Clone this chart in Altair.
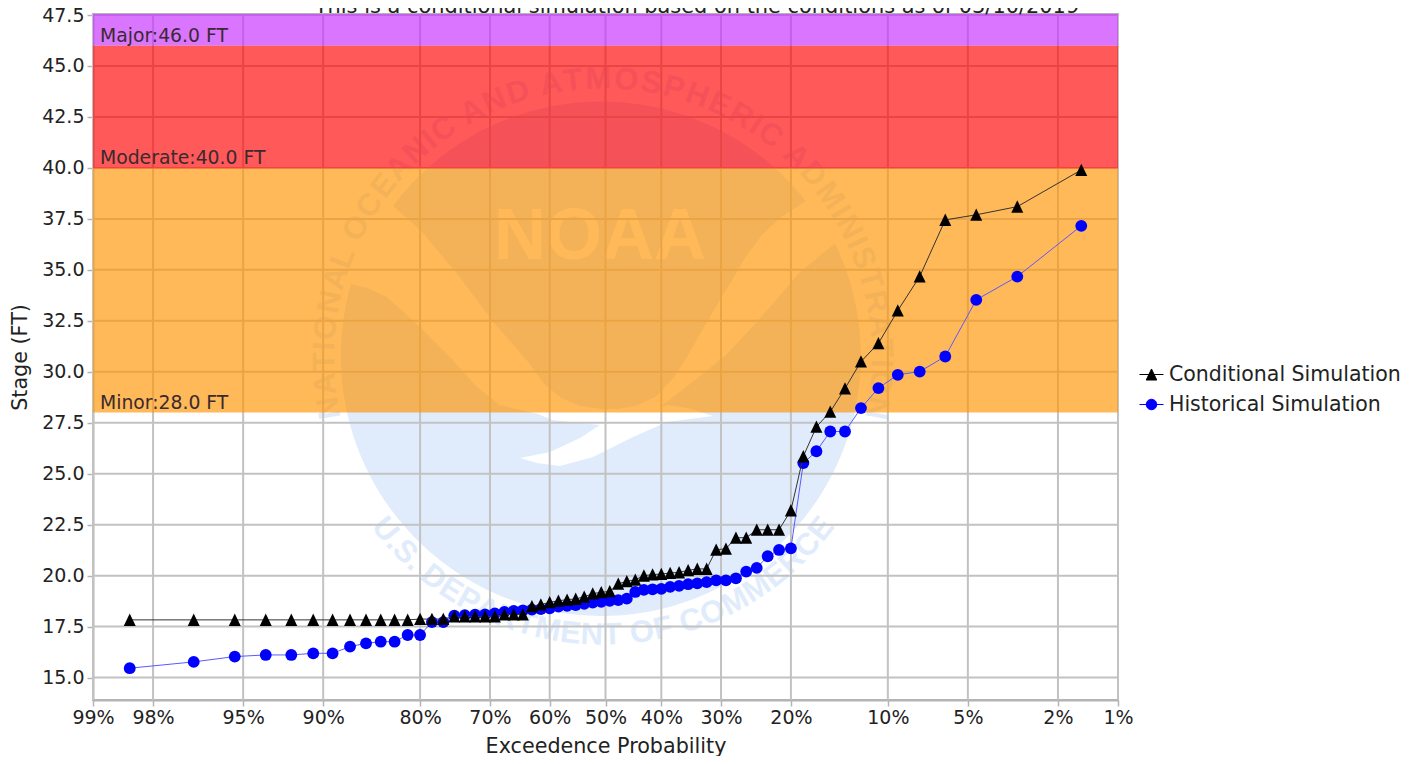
import math
from statistics import NormalDist
import altair as alt
import pandas as pd

FONT = "DejaVu Sans"
TITLE = "This is a conditional simulation based on the conditions as of 03/10/2019"

exceedance = [98.46, 96.92, 95.38, 93.85, 92.31, 90.77, 89.23, 87.69, 86.15, 84.62, 83.08, 81.54, 80.00,
              78.46, 76.92, 75.38, 73.85, 72.31, 70.77, 69.23, 67.69, 66.15, 64.62, 63.08, 61.54, 60.00,
              58.46, 56.92, 55.38, 53.85, 52.31, 50.77, 49.23, 47.69, 46.15, 44.62, 43.08, 41.54, 40.00,
              38.46, 36.92, 35.38, 33.85, 32.31, 30.77, 29.23, 27.69, 26.15, 24.62, 23.08, 21.54, 20.00,
              18.46, 16.92, 15.38, 13.85, 12.31, 10.77, 9.23, 7.69, 6.15, 4.62, 3.08, 1.54]
conditional = [17.83, 17.83, 17.83, 17.83, 17.83, 17.83, 17.83, 17.83, 17.83, 17.83, 17.83, 17.83, 17.87,
               17.87, 17.87, 18.0, 18.0, 18.0, 18.0, 18.0, 18.09, 18.09, 18.09, 18.5, 18.58, 18.69,
               18.77, 18.82, 18.86, 18.96, 19.12, 19.18, 19.23, 19.6, 19.72, 19.8, 20.0, 20.05, 20.08,
               20.13, 20.16, 20.26, 20.33, 20.33, 21.27, 21.32, 21.86, 21.86, 22.25, 22.25, 22.25, 23.2,
               25.85, 27.3, 28.04, 29.18, 30.5, 31.4, 33.0, 34.67, 37.45, 37.7, 38.1, 39.9]
historical = [15.46, 15.77, 16.03, 16.11, 16.11, 16.19, 16.19, 16.52, 16.68, 16.76, 16.76, 17.09, 17.09,
              17.72, 17.72, 18.04, 18.06, 18.08, 18.1, 18.15, 18.22, 18.27, 18.3, 18.33, 18.36, 18.4,
              18.48, 18.52, 18.56, 18.62, 18.68, 18.72, 18.76, 18.8, 18.87, 19.2, 19.3, 19.33, 19.35,
              19.45, 19.5, 19.58, 19.62, 19.68, 19.77, 19.77, 19.87, 20.2, 20.38, 20.95, 21.26, 21.34,
              25.52, 26.1, 27.07, 27.07, 28.22, 29.2, 29.85, 30.01, 30.75, 33.53, 34.67, 37.16]

series_names = ["Conditional Simulation", "Historical Simulation"]
x_ticks = [99, 98, 95, 90, 80, 70, 60, 50, 40, 30, 20, 10, 5, 2, 1]
y_ticks = [15.0, 17.5, 20.0, 22.5, 25.0, 27.5, 30.0, 32.5, 35.0, 37.5, 40.0, 42.5, 45.0, 47.5]

band_low = [28.0, 40.0, 46.0]
band_high = [40.0, 46.0, 47.55]
band_colors = ["#FF9300", "#FF0000", "#C62BFF"]
band_labels = ["Minor:28.0 FT", "Moderate:40.0 FT", "Major:46.0 FT"]

nd = NormalDist()
def z_of(p):
    return nd.inv_cdf(1 - p / 100)

X_DOM = [z_of(99), z_of(1)]
Y_DOM = [13.9, 47.55]
PX_PER_Z = 1025 / (X_DOM[1] - X_DOM[0])
PX_PER_FT = 686 / (Y_DOM[1] - Y_DOM[0])
def page_to_data(px, py):
    return (px - 605.5) / PX_PER_Z, 15 + (678 - py) / PX_PER_FT

label_expr = "''"
for t in x_ticks:
    label_expr = f"abs(datum.value-({z_of(t):.5f}))<0.001?'{t}%':({label_expr})"

x_scale = alt.Scale(domain=X_DOM, nice=False, zero=False)
y_scale = alt.Scale(domain=Y_DOM, nice=False, zero=False)
AX_GRAY = "#b4b4b4"
INK = "#222222"
x_axis = alt.Axis(values=[z_of(v) for v in x_ticks], grid=False,
                  labelExpr=label_expr,
                  title="Exceedence Probability", titleFont=FONT, titleFontSize=20.7,
                  titleFontWeight="normal", titleColor=INK, titlePadding=9,
                  labelFont=FONT, labelFontSize=19, labelColor=INK, labelPadding=2,
                  labelOverlap=False, labelFlush=False,
                  tickColor=AX_GRAY, tickSize=6, tickWidth=1.5,
                  domainColor=AX_GRAY, domainWidth=2)
y_axis = alt.Axis(values=y_ticks, format=".1f", grid=False,
                  title="Stage (FT)", titleFont=FONT, titleFontSize=20.7,
                  titleFontWeight="normal", titleColor=INK, titlePadding=11,
                  labelFont=FONT, labelFontSize=19, labelColor=INK, labelPadding=3,
                  labelOverlap=False, labelFlush=False,
                  tickColor=AX_GRAY, tickSize=6, tickWidth=1.5,
                  domainColor=AX_GRAY, domainWidth=2)
def X(f="z"):
    return alt.X(f + ":Q", scale=x_scale, axis=x_axis)
def Y(f="v"):
    return alt.Y(f + ":Q", scale=y_scale, axis=y_axis)

# ---- watermark (page-pixel outline of the logo)
WM = "#E0ECFC"
TOP_SHAPE = ("M393,206 A260,260 0 0 1 806,201 L780,218 762,235 745,258 731,282 717,305 703,329 690,352 "
             "675,376 657,396 636,406 618,409 600,409 580,406 561,398 545,385 529,363 494,323 458,275 422,232 Z")
LOW_SHAPE = ("M351,284 L368,288 387,297 420,327 450,357 477,387 500,405 538,414 552,420 590,424 600,425 580,438 "
             "550,452 520,458 537,463 560,466 593,457 633,437 667,422 713,416 687,408 668,405 660,407 "
             "700,376 727,354 753,326 774,302 800,272 835,243 A260,260 0 1 1 351,284 Z")
def shape_layer(path):
    return alt.Chart(pd.DataFrame({"a": [0]})).mark_point(
        shape=path, size=4, filled=True, color=WM, opacity=1, strokeWidth=0, clip=False
    ).encode(x=alt.value(-93), y=alt.value(-14))

W = {"A": .667, "C": .722, "D": .722, "E": .667, "F": .611, "H": .722, "I": .278, "L": .556, "M": .833, "N": .722,
     "O": .778, "P": .667, "R": .722, "S": .667, "T": .611, "U": .722, " ": .278, ".": .278}
def ring(text, span, radius, bottom=False):
    total = sum(W[c] for c in text)
    cum, rows = 0.0, []
    for c in text:
        t = -span + 2 * span * (cum + W[c] / 2) / total
        cum += W[c]
        if c == " ":
            continue
        r = math.radians(t)
        px = 603 + radius * math.sin(r)
        py = 358 + radius * math.cos(r) if bottom else 358 - radius * math.cos(r)
        zz, vv = page_to_data(px, py)
        rows.append({"z": zz, "v": vv, "c": c, "a": ((-t if bottom else t) % 360)})
    return rows

ring_df = pd.DataFrame(ring("NATIONAL OCEANIC AND ATMOSPHERIC ADMINISTRATION", 103, 278)
                       + ring("U.S. DEPARTMENT OF COMMERCE", 54, 278, bottom=True))
ring_text = alt.Chart(ring_df).mark_text(
    font="Liberation Sans", fontSize=31, fontWeight="bold", color=WM, baseline="middle", align="center"
).encode(x=X(), y=Y(), text="c:N", angle=alt.Angle("a:Q", scale=None))
noaa = alt.Chart(pd.DataFrame({"t": ["NOAA"]})).mark_text(
    font="Liberation Sans", fontSize=72, fontWeight="bold", color="#FFFFFF",
    baseline="middle", align="center"
).encode(text="t:N", x=alt.value(507), y=alt.value(223))

# ---- grid
grid_x = alt.Chart(pd.DataFrame({"z": [z_of(v) for v in x_ticks]})).mark_rule(color="#c2c2c2", strokeWidth=2).encode(x=X())
grid_y = alt.Chart(pd.DataFrame({"v": y_ticks})).mark_rule(color="#c2c2c2", strokeWidth=2).encode(y=Y())

# ---- flood bands
bands = pd.DataFrame({"v": band_low, "v2": band_high, "col": band_colors, "lab": band_labels})
band_rect = alt.Chart(bands).mark_rect(opacity=0.65).encode(
    y=Y(), y2="v2:Q", color=alt.Color("col:N", scale=None, legend=None))
band_edge = alt.Chart(pd.DataFrame({"v": [40.0]})).mark_rule(color="#ff4040", strokeWidth=1).encode(y=Y())
band_text = alt.Chart(bands).mark_text(
    font=FONT, fontSize=18.8, color="#3a2a30", align="left", baseline="alphabetic", dy=-4
).encode(x=alt.value(7), y=Y(), text="lab:N")

# ---- series
df = pd.DataFrame({"z": [z_of(p) for p in exceedance], "c": conditional, "h": historical})
TRI_MARK = "M0,-1.05L-1,1L1,1Z"
hist_line = alt.Chart(df).mark_line(color="#5a5aff", strokeWidth=1).encode(x=X(), y=Y("h"))
hist_pts = alt.Chart(df).mark_point(shape="circle", size=140, filled=True, color="#0000FF", opacity=1).encode(x=X(), y=Y("h"))
cond_line = alt.Chart(df).mark_line(color="#333333", strokeWidth=1).encode(x=X(), y=Y("c"))
cond_pts = alt.Chart(df).mark_point(shape=TRI_MARK, size=144, filled=True, color="#000000", opacity=1).encode(x=X(), y=Y("c"))

# ---- title, sitting against the top of the picture as in the reference
title = alt.Chart(pd.DataFrame({"t": [TITLE]})).mark_text(
    font=FONT, fontSize=20.9, color=INK, align="center", baseline="alphabetic"
).encode(text="t:N", x=alt.value(604), y=alt.value(-1))

# ---- legend (no drawn data, only its scale domain)
TRI = "M-1,0L1,0M-0.44,0.46L0,-0.46L0.44,0.46Z"
CIR = "M-1,0L1,0M-0.44,0A0.44,0.44,0,1,1,0.44,0A0.44,0.44,0,1,1,-0.44,0Z"
leg = alt.Legend(title=None, orient="none", legendX=1046, legendY=348, labelFont=FONT, labelFontSize=20.5,
                 labelColor=INK, symbolStrokeWidth=1, symbolSize=576, rowPadding=7, labelOffset=5,
                 labelLimit=300, padding=0)
legend_layer = alt.Chart(pd.DataFrame({"s": series_names})).transform_filter("datum.s == 'none'").mark_point(
    filled=True, size=576, opacity=1, strokeWidth=1
).encode(
    shape=alt.Shape("s:N", scale=alt.Scale(domain=series_names, range=[TRI, CIR]), legend=leg),
    fill=alt.Fill("s:N", scale=alt.Scale(domain=series_names, range=["#000000", "#0000FF"]), legend=leg),
    stroke=alt.Stroke("s:N", scale=alt.Scale(domain=series_names, range=["#000000", "#0000FF"]), legend=leg),
)

chart = alt.layer(
    shape_layer(TOP_SHAPE), shape_layer(LOW_SHAPE), noaa, ring_text,
    grid_x, grid_y, band_rect, band_edge, band_text,
    hist_line, hist_pts, cond_line, cond_pts, title, legend_layer,
).properties(
    width=1025, height=686,
    padding={"left": 85, "top": 6, "right": 285, "bottom": 56},
    autosize=alt.AutoSizeParams(type="none"),
).configure_view(stroke="#b4b4b4", strokeWidth=2)

chart.save("out.html", embed_options={"renderer": "svg", "actions": False})
